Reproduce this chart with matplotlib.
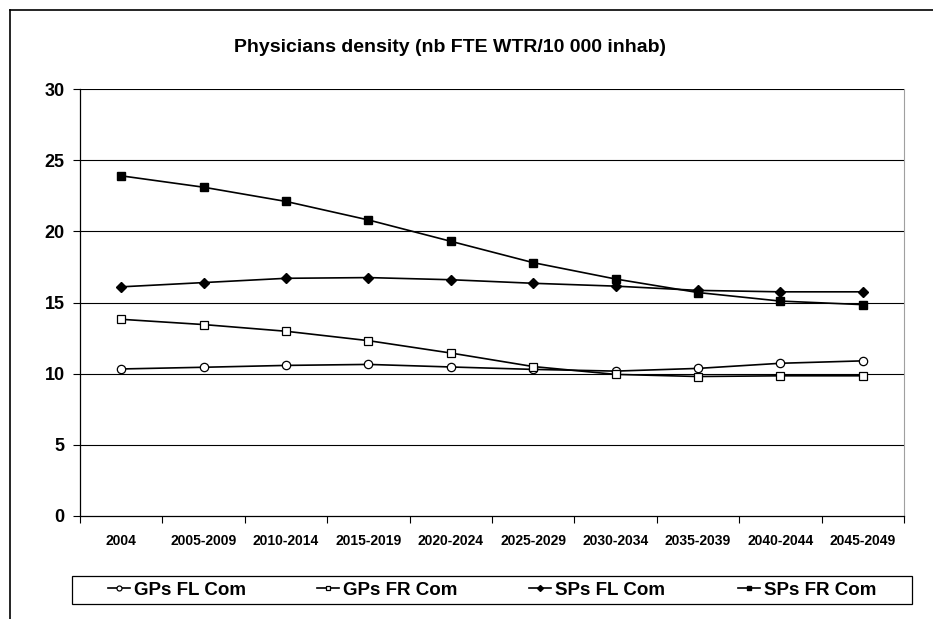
"""Physicians density projections, GPs and SPs by community."""

import matplotlib
matplotlib.use("Agg")
import matplotlib.pyplot as plt
from matplotlib.lines import Line2D
from matplotlib.patches import Rectangle
import numpy as np

plt.rcParams["font.family"] = ["Liberation Sans", "DejaVu Sans"]
plt.rcParams["font.weight"] = "bold"

periods = ["2004", "2005-2009", "2010-2014", "2015-2019", "2020-2024",
           "2025-2029", "2030-2034", "2035-2039", "2040-2044", "2045-2049"]

gps_fl = [10.33, 10.45, 10.58, 10.65, 10.47, 10.30, 10.18, 10.37, 10.73, 10.90]
gps_fr = [13.82, 13.45, 12.98, 12.32, 11.45, 10.50, 9.95, 9.80, 9.85, 9.85]
sps_fl = [16.10, 16.40, 16.70, 16.75, 16.60, 16.35, 16.15, 15.85, 15.75, 15.75]
sps_fr = [23.90, 23.10, 22.10, 20.80, 19.30, 17.80, 16.65, 15.70, 15.10, 14.85]

W, H = 933, 619
fig = plt.figure(figsize=(W / 100, H / 100), dpi=100)
ax = fig.add_axes([80 / W, 1 - 516 / H, (904 - 80) / W, (516 - 89) / H])

x = np.arange(len(periods))
lines = []
lines += ax.plot(x, gps_fl, color="black", lw=1.2, marker="o", ms=6,
                 mfc="white", mec="black", mew=0.9, label="GPs FL Com", zorder=3)
lines += ax.plot(x, gps_fr, color="black", lw=1.2, marker="s", ms=5.5,
                 mfc="white", mec="black", mew=0.9, label="GPs FR Com", zorder=3)
lines += ax.plot(x, sps_fl, color="black", lw=1.2, marker="D", ms=5,
                 mfc="black", mec="black", label="SPs FL Com", zorder=3)
lines += ax.plot(x, sps_fr, color="black", lw=1.2, marker="s", ms=5.8,
                 mfc="black", mec="black", label="SPs FR Com", zorder=3)

ax.set_xlim(-0.5, len(periods) - 0.5)
ax.set_ylim(0, 30)
ax.set_yticks(range(0, 31, 5))
ax.tick_params(axis="y", labelsize=13, length=5, width=0.8, pad=6)
for y in range(5, 31, 5):
    ax.axhline(y, color="black", lw=0.8, zorder=1)

ax.set_xticks(x)
ax.set_xticklabels(periods)
ax.set_xticks(np.arange(-0.5, len(periods)), minor=True)
ax.tick_params(axis="x", which="major", length=0, labelsize=10, pad=13)
ax.tick_params(axis="x", which="minor", length=5, width=0.8, direction="out")

ax.spines["top"].set_visible(False)
ax.spines["right"].set_color("#a0a0a0")
ax.spines["left"].set_linewidth(0.9)
ax.spines["bottom"].set_linewidth(0.9)

fig.text(450 / W, 1 - 48 / H, "Physicians density (nb FTE WTR/10 000 inhab)",
         ha="center", va="center", fontsize=14, fontweight="bold")

# legend: framed box with four entries, each centred in its quarter
lx0, lx1, ly0, ly1 = 72, 912, 576, 604
fig.add_artist(Rectangle((lx0 / W, 1 - ly1 / H), (lx1 - lx0) / W, (ly1 - ly0) / H,
                         transform=fig.transFigure, fill=False,
                         edgecolor="black", lw=0.9))
col_w = (lx1 - lx0) / 4
for i, ln in enumerate(lines):
    cx = lx0 + col_w * (i + 0.5)
    fig.legend([ln], [ln.get_label()], loc="center",
               bbox_to_anchor=(cx / W, 1 - (ly0 + ly1) / 2 / H),
               frameon=False, fontsize=13.5, handlelength=1.2,
               handletextpad=0.2, markerscale=0.6, borderpad=0)

# outer chart frame (top and left edges visible)
fig.add_artist(Line2D([10 / W, 1], [1 - 10 / H, 1 - 10 / H], color="black", lw=1.2))
fig.add_artist(Line2D([10 / W, 10 / W], [0, 1 - 10 / H], color="black", lw=1.2))

fig.savefig("out.png", dpi=100)
